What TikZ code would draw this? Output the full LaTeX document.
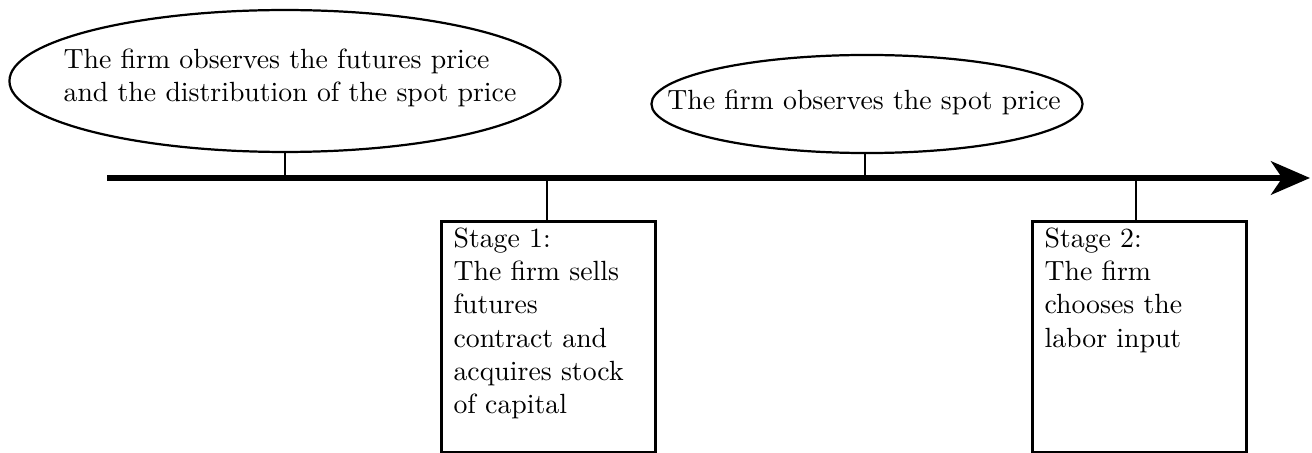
\documentclass[tikz,border=0pt]{standalone}
\usetikzlibrary{arrows.meta,shapes.geometric}
\begin{document}
\begin{tikzpicture}[x=0.36pt,y=-0.36pt,
  evt/.style={draw,ellipse,line width=0.8pt,inner sep=0pt},
  evttext/.style={align=left,inner sep=0pt},
  stagebox/.style={draw,rectangle,line width=1pt,anchor=north west,minimum width=77pt,minimum height=83.2pt,inner sep=0pt},
  stagetext/.style={anchor=north west,align=left,inner sep=0pt,text width=70pt},
  tick/.style={line width=1pt},
  timeline/.style={line width=2.2pt,-{Stealth[length=14pt,width=12pt,inset=4pt]}}]
\useasboundingbox (0,0) rectangle (1312,453);
\coordinate (start) at (107,178);
\coordinate (end) at (1310,178);
\draw[timeline] (start) -- (end);
\node[evt,minimum width=198.4pt,minimum height=51.1pt] (e1) at (285,81) {};
\node[evttext] (t0) at (290,78) {The firm observes the futures price\\and the distribution of the spot price};
\node[evt,minimum width=155.2pt,minimum height=35.3pt] (e2) at (867,104) {};
\node[evttext] (t3) at (864,102) {The firm observes the spot price};
\node[stagebox] (b1) at (440,220) {};
\node[stagebox] (b2) at (1031,220) {};
\node[stagetext] (t1) at (453,227) {Stage 1:\\The firm sells\\futures\\contract and\\acquires stock\\of capital};
\node[stagetext] (t2) at (1044,227) {Stage 2:\\The firm\\chooses the\\labor input};
\coordinate (c1) at (285,178);
\coordinate (c2) at (865,178);
\coordinate (c3) at (547,178);
\coordinate (c4) at (1136,178);
\draw[tick] (e1.south) -- (c1);
\draw[tick] (c2 |- e2.south) -- (c2);
\draw[tick] (c3) -- (b1.north -| c3);
\draw[tick] (c4) -- (b2.north -| c4);
\end{tikzpicture}
\end{document}
